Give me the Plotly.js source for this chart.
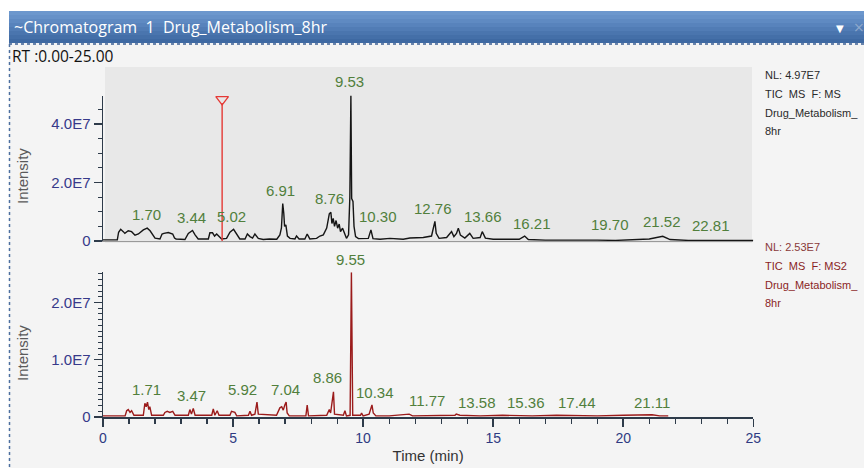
<!DOCTYPE html>
<html>
<head>
<meta charset="utf-8">
<script src="https://cdn.plot.ly/plotly-3.0.1.min.js"></script>
<style>html,body{margin:0;padding:0;background:#fff;}#chart{width:864px;height:468px;}</style>
</head>
<body>
<div id="chart"></div>
<script>
// ---------- DATA ----------
// Upper trace: TIC MS F: MS (time in min, intensity)
const msTime = [0.00,0.55,0.60,0.68,0.78,0.84,0.97,1.10,1.23,1.36,1.55,1.70,1.81,2.00,2.19,2.27,2.34,2.51,2.68,2.75,2.81,3.15,3.28,3.44,3.54,3.66,4.05,4.11,4.21,4.29,4.37,4.47,4.56,4.75,4.88,5.02,5.14,5.26,5.46,5.55,5.65,5.75,5.84,5.97,6.16,6.40,6.68,6.80,6.86,6.91,6.95,6.98,7.03,7.09,7.19,7.38,7.44,7.54,7.76,7.85,7.95,8.21,8.34,8.47,8.60,8.70,8.76,8.80,8.85,8.90,8.96,9.02,9.08,9.13,9.21,9.28,9.36,9.44,9.49,9.53,9.56,9.61,9.65,9.71,9.82,10.20,10.30,10.38,10.65,11.03,11.54,11.80,12.31,12.63,12.76,12.81,12.92,13.21,13.40,13.49,13.59,13.66,13.74,13.91,14.10,14.23,14.50,14.58,14.70,15.00,15.50,16.00,16.21,16.35,17.00,18.00,19.00,19.70,20.50,21.00,21.52,21.80,22.50,23.50,25.00];
const msInt = [0.4e6,0.4e6,3.0e6,4.0e6,3.2e6,2.6e6,3.5e6,3.2e6,2.0e6,2.4e6,3.8e6,4.4e6,3.5e6,1.0e6,0.7e6,2.4e6,2.6e6,2.9e6,2.4e6,1.0e6,0.7e6,0.5e6,2.6e6,3.6e6,2.1e6,0.7e6,0.7e6,2.8e6,2.8e6,1.7e6,2.4e6,1.6e6,0.7e6,0.9e6,3.0e6,4.0e6,2.1e6,0.7e6,0.7e6,2.4e6,1.5e6,1.0e6,2.4e6,0.9e6,0.5e6,0.7e6,0.6e6,2.1e6,4.5e6,12.8e6,9.5e6,5.0e6,5.5e6,1.7e6,0.9e6,0.7e6,1.7e6,0.7e6,0.7e6,2.4e6,0.7e6,0.9e6,1.7e6,2.1e6,4.4e6,9.3e6,9.8e6,6.0e6,7.7e6,5.0e6,7.0e6,4.4e6,5.8e6,3.2e6,4.4e6,2.6e6,0.9e6,2.1e6,15.0e6,49.7e6,14.5e6,13.5e6,5.0e6,1.5e6,0.8e6,0.9e6,3.8e6,0.8e6,0.6e6,0.9e6,0.6e6,1.0e6,1.2e6,1.7e6,6.7e6,2.6e6,0.9e6,1.2e6,3.2e6,1.5e6,2.6e6,4.4e6,2.0e6,1.0e6,2.6e6,0.9e6,1.2e6,3.2e6,1.0e6,0.6e6,0.5e6,0.6e6,1.7e6,0.5e6,0.3e6,0.4e6,0.3e6,0.2e6,0.5e6,0.7e6,1.6e6,0.5e6,0.2e6,0.2e6,0.2e6];

// Lower trace: TIC MS F: MS2
const ms2Time = [0.00,0.85,0.91,0.97,1.04,1.10,1.19,1.55,1.61,1.66,1.71,1.76,1.80,1.87,2.32,2.38,2.47,2.57,2.68,2.77,3.28,3.34,3.40,3.47,3.54,4.18,4.24,4.30,4.39,4.46,4.88,4.94,5.07,5.14,5.59,5.65,5.71,5.84,5.92,5.97,6.67,6.80,6.87,6.93,6.99,7.04,7.08,7.16,7.80,7.85,7.90,8.60,8.70,8.75,8.86,8.90,9.24,9.30,9.36,9.50,9.55,9.60,9.90,9.94,10.00,10.23,10.34,10.39,10.49,11.00,11.77,11.90,13.53,13.58,13.72,14.50,15.36,16.50,17.44,19.00,20.00,21.11,21.40,21.73];
const ms2Int = [0.2e6,0.2e6,1.1e6,1.3e6,0.8e6,1.1e6,0.3e6,0.3e6,2.4e6,1.8e6,2.6e6,1.3e6,1.8e6,0.3e6,0.3e6,0.8e6,1.0e6,0.8e6,1.0e6,0.3e6,0.3e6,1.3e6,0.5e6,1.5e6,0.3e6,0.3e6,1.4e6,0.3e6,1.1e6,0.3e6,0.3e6,1.0e6,0.8e6,0.2e6,0.3e6,1.0e6,0.3e6,0.5e6,2.6e6,0.5e6,0.3e6,1.6e6,1.8e6,1.2e6,2.1e6,2.6e6,0.7e6,0.2e6,0.2e6,2.1e6,0.2e6,0.3e6,1.3e6,0.7e6,4.4e6,0.5e6,0.3e6,1.1e6,0.2e6,0.3e6,25.3e6,0.3e6,0.3e6,0.7e6,0.2e6,0.5e6,2.1e6,0.7e6,0.2e6,0.2e6,0.5e6,0.2e6,0.3e6,0.5e6,0.3e6,0.2e6,0.3e6,0.2e6,0.3e6,0.2e6,0.3e6,0.4e6,0.2e6,0.2e6];

// Peak labels (text, label position in min, label position in intensity, extra lift in px for labels above full scale)
const msLabels = ['1.70','3.44','5.02','6.91','8.76','9.53','10.30','12.76','13.66','16.21','19.70','21.52','22.81'];
const msLabelX = [1.68,3.41,4.95,6.84,8.70,9.47,10.58,12.70,14.62,16.48,19.49,21.48,23.36];
const msLabelY = [8.9e6,7.9e6,8.3e6,17.4e6,14.6e6,4.97e7,8.3e6,11.2e6,8.5e6,6.0e6,5.8e6,6.6e6,5.2e6];
const msLabelLift = [0,0,0,0,0,14,0,0,0,0,0,0,0];

const ms2Labels = ['1.71','3.47','5.92','7.04','8.86','9.55','10.34','11.77','13.58','15.36','17.44','21.11'];
const ms2LabelX = [1.68,3.41,5.37,7.00,8.63,9.53,10.46,12.44,14.36,16.26,18.21,21.09];
const ms2LabelY = [4.8e6,3.8e6,4.8e6,4.8e6,6.9e6,2.53e7,4.2e6,2.85e6,2.45e6,2.45e6,2.45e6,2.45e6];
const ms2LabelLift = [0,0,0,0,0,13,0,0,0,0,0,0];

// Cursor marker
const cursorTime = [4.58, 4.58];
const cursorInt = [0, 4.72e7];
const cursorMarkTime = [4.58];
const cursorMarkInt = [4.84e7];

// Axis ticks
const xTicks = [0,5,10,15,20,25];
const msTickVals = [0,2e7,4e7];
const msTickText = ['0','2.0E7','4.0E7'];
const ms2TickVals = [0,1e7,2e7];
const ms2TickText = ['0','1.0E7','2.0E7'];

const msInfo = ['NL: 4.97E7','TIC  MS  F: MS','Drug_Metabolism_','8hr'];
const ms2Info = ['NL: 2.53E7','TIC  MS  F: MS2','Drug_Metabolism_','8hr'];

// ---------- LAYOUT HELPERS ----------
const W = 864, H = 468;
const px = x => x / W;
const py = y => 1 - y / H;
const FONT = 'Liberation Sans, Arial, sans-serif';
const labelColor = '#517f3c';
const tickColor = '#37398a';
const axisColor = '#2e3b4a';

const traces = [
  {x: msTime, y: msInt, xaxis: 'x2', yaxis: 'y2', type: 'scatter', mode: 'lines',
   line: {color: '#151515', width: 1.4}, hoverinfo: 'skip', showlegend: false},
  {x: cursorTime, y: cursorInt, xaxis: 'x2', yaxis: 'y2', type: 'scatter', mode: 'lines',
   line: {color: '#e53935', width: 1.4}, hoverinfo: 'skip', showlegend: false},
  {x: cursorMarkTime, y: cursorMarkInt, xaxis: 'x2', yaxis: 'y2', type: 'scatter', mode: 'markers',
   marker: {symbol: 'triangle-down-open', size: 11, color: '#e53935', line: {width: 1.3, color: '#e53935'}},
   cliponaxis: false, hoverinfo: 'skip', showlegend: false},
  {x: ms2Time, y: ms2Int, xaxis: 'x', yaxis: 'y', type: 'scatter', mode: 'lines',
   line: {color: '#9b1b1b', width: 1.4}, hoverinfo: 'skip', showlegend: false, cliponaxis: false}
];

const annotations = [];
msLabels.forEach((t, i) => annotations.push({
  x: msLabelX[i], y: msLabelY[i], xref: 'x2', yref: 'y2', text: t, showarrow: false, yshift: msLabelLift[i],
  font: {family: FONT, size: 15, color: labelColor}, xanchor: 'center', yanchor: 'middle'}));
ms2Labels.forEach((t, i) => annotations.push({
  x: ms2LabelX[i], y: ms2LabelY[i], xref: 'x', yref: 'y', text: t, showarrow: false, yshift: ms2LabelLift[i],
  font: {family: FONT, size: 15, color: labelColor}, xanchor: 'center', yanchor: 'middle'}));

const infoY1 = [75, 94, 113, 131];
msInfo.forEach((t, i) => annotations.push({
  x: px(763), y: py(infoY1[i]), xref: 'paper', yref: 'paper', text: t, showarrow: false,
  xanchor: 'left', yanchor: 'middle', font: {family: FONT, size: 11, color: '#2a2a2a'}}));
const infoY2 = [247, 266, 285, 303];
ms2Info.forEach((t, i) => annotations.push({
  x: px(763), y: py(infoY2[i]), xref: 'paper', yref: 'paper', text: t, showarrow: false,
  xanchor: 'left', yanchor: 'middle', font: {family: FONT, size: 11, color: i === 0 ? '#8a3a3a' : '#8a1f1f'}}));

// window chrome texts
annotations.push({x: px(12), y: py(27), xref: 'paper', yref: 'paper', text: '~Chromatogram  1  Drug_Metabolism_8hr',
  showarrow: false, xanchor: 'left', yanchor: 'middle', font: {family: 'Open Sans, sans-serif', size: 16, color: '#ffffff'}});
annotations.push({x: px(840), y: py(28), xref: 'paper', yref: 'paper', text: '▼',
  showarrow: false, xanchor: 'center', yanchor: 'middle', font: {family: 'DejaVu Sans', size: 10, color: '#ffffff'}});
annotations.push({x: px(859), y: py(27), xref: 'paper', yref: 'paper', text: '×',
  showarrow: false, xanchor: 'center', yanchor: 'middle', font: {family: 'DejaVu Sans', size: 14, color: '#8fa9cc'}});
annotations.push({x: px(10), y: py(56), xref: 'paper', yref: 'paper', text: 'RT :0.00-25.00',
  showarrow: false, xanchor: 'left', yanchor: 'middle', font: {family: 'Open Sans, sans-serif', size: 15.5, color: '#111111'}});
// y titles
[176, 353].forEach(yc => annotations.push({x: px(22), y: py(yc), xref: 'paper', yref: 'paper', text: 'Intensity',
  showarrow: false, textangle: -90, xanchor: 'center', yanchor: 'middle', font: {family: FONT, size: 15, color: '#5a5a5a'}}));

const shapes = [];
// white outer area
shapes.push({type: 'rect', xref: 'paper', yref: 'paper', x0: 0, x1: 1, y0: py(11), y1: 1, fillcolor: '#ffffff', line: {width: 0}, layer: 'below'});
shapes.push({type: 'rect', xref: 'paper', yref: 'paper', x0: 0, x1: px(9), y0: 0, y1: 1, fillcolor: '#ffffff', line: {width: 0}, layer: 'below'});
// title bar gradient
const barCols = ['#6c97cd','#6691c8','#5f8ac2','#5883bc','#517cb5','#4a75ae','#446fa8','#3e69a2'];
barCols.forEach((c, i) => shapes.push({type: 'rect', xref: 'paper', yref: 'paper',
  x0: px(9), x1: 1, y0: py(11 + (i + 1) * 4), y1: py(11 + i * 4), fillcolor: c, line: {width: 0}, layer: 'below'}));
// dotted borders
shapes.push({type: 'line', xref: 'paper', yref: 'paper', x0: px(9), x1: 1, y0: py(44), y1: py(44), line: {color: '#3d5f92', width: 1.5, dash: 'dot'}});
shapes.push({type: 'line', xref: 'paper', yref: 'paper', x0: px(9.5), x1: px(9.5), y0: py(44), y1: 0, line: {color: '#4d6f9f', width: 1.5, dash: 'dot'}});
// upper panel shading
shapes.push({type: 'rect', xref: 'paper', yref: 'paper', x0: px(105), x1: px(752), y0: py(243), y1: py(67), fillcolor: '#e8e8e8', line: {width: 0}, layer: 'below'});

const xDomain = [px(103), px(753.3)];

const layout = {
  width: W, height: H,
  margin: {l: 0, r: 0, t: 0, b: 0},
  paper_bgcolor: '#f4f4f4', plot_bgcolor: 'rgba(0,0,0,0)',
  showlegend: false,
  font: {family: FONT},
  xaxis: {domain: xDomain, anchor: 'y', range: [0, 25], tickvals: xTicks, ticks: 'outside', ticklen: 8, tickwidth: 1.5,
    tickcolor: axisColor, showline: true, linecolor: axisColor, linewidth: 1.5, showgrid: false, zeroline: false,
    minor: {dtick: 1, ticks: 'outside', ticklen: 5, tickwidth: 1.2, tickcolor: axisColor},
    tickfont: {family: FONT, size: 14, color: '#2e3a82'},
    title: {text: 'Time (min)', font: {family: FONT, size: 15, color: '#333333'}, standoff: 5}},
  yaxis: {domain: [py(417), py(272.2)], anchor: 'x', range: [0, 2.53e7], tickvals: ms2TickVals, ticktext: ms2TickText,
    ticks: 'outside', ticklen: 8, tickwidth: 1.2, tickcolor: axisColor, showline: true, linecolor: axisColor, linewidth: 1.5,
    showgrid: false, zeroline: false,
    minor: {dtick: 1e6, tick0: 0, ticks: 'outside', ticklen: 4, tickwidth: 1, tickcolor: axisColor},
    tickfont: {family: FONT, size: 15, color: tickColor}},
  xaxis2: {domain: xDomain, anchor: 'y2', range: [0, 25], showticklabels: false, ticks: '', showline: true,
    linecolor: '#9a9a9a', linewidth: 1, showgrid: false, zeroline: false},
  yaxis2: {domain: [py(241), py(95.6)], anchor: 'x2', range: [0, 4.97e7], tickvals: msTickVals, ticktext: msTickText,
    ticks: 'outside', ticklen: 8, tickwidth: 1.2, tickcolor: axisColor, showline: true, linecolor: axisColor, linewidth: 1.5,
    showgrid: false, zeroline: false,
    minor: {dtick: 5e6, tick0: 0, ticks: 'outside', ticklen: 4, tickwidth: 1, tickcolor: axisColor},
    tickfont: {family: FONT, size: 15, color: tickColor}},
  annotations: annotations,
  shapes: shapes
};

Plotly.newPlot('chart', traces, layout, {staticPlot: true, displayModeBar: false});
</script>
</body>
</html>
